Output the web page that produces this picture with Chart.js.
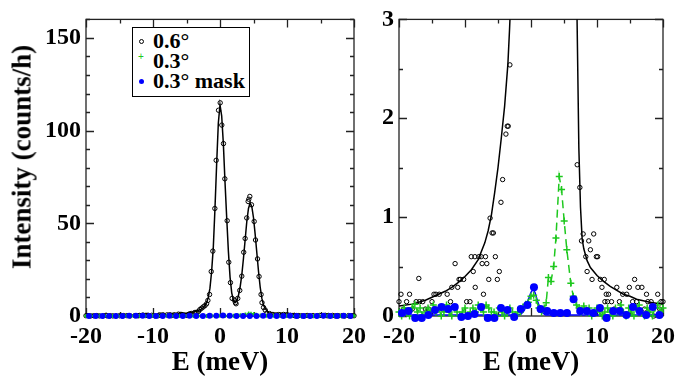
<!DOCTYPE html>
<html>
<head>
  <title>Intensity vs E</title>
  <style>
    body {
      margin: 0;
      padding: 0;
      background-color: #fff;
      font-family: "Liberation Serif", serif;
    }

    #wrap {
      position: relative;
      width: 681px;
      height: 376px;
      overflow: hidden;
    }

    canvas {
      position: absolute;
      top: 0;
    }

    #left { left: 0; }
    #right { left: 360px; }

    #ytitle {
      position: absolute;
      left: 22px;
      top: 157px;
      transform: translate(-50%, -50%) rotate(-90deg);
      font: bold 27px "Liberation Serif", serif;
      white-space: nowrap;
      color: #000;
    }

    #legend {
      position: absolute;
      left: 132px;
      top: 27px;
      width: 116px;
      height: 68px;
      border: 1.5px solid #000;
      background: #fff;
      font: bold 22px "Liberation Serif", serif;
      color: #000;
    }

    .row {
      position: absolute;
      left: 20px;
      height: 20px;
      line-height: 20px;
      white-space: nowrap;
    }

    .mk {
      position: absolute;
      left: -14px;
      top: 8px;
      width: 4px;
      height: 4px;
      border-radius: 50%;
    }
  </style>
</head>
<body>

<div id="wrap">
  <canvas id="left" width="372" height="376"></canvas>
  <canvas id="right" width="321" height="376"></canvas>
  <div id="ytitle">Intensity (counts/h)</div>
  <div id="legend">
    <div class="row" style="top: 3px;"><span class="mk" style="border: 1px solid #000; width: 3px; height: 3px;"></span>0.6°</div>
    <div class="row" style="top: 23px;"><span class="mk" style="left: -15px; top: 0; width: auto; height: auto; color: #1ec81e; font: 10px sans-serif;">+</span>0.3°</div>
    <div class="row" style="top: 43px;"><span class="mk" style="background: #0000ff; width: 5px; height: 5px;"></span>0.3° mask</div>
  </div>
</div>

<script src="https://cdn.jsdelivr.net/npm/chart.js"></script>
<script>
  // 0.6 deg data (open circles)
  const e06 = [-20.0, -19.7, -19.3, -18.85, -18.4, -18.0, -17.4, -17.0, -16.9, -16.4, -16.0, -15.5, -15.0, -14.7, -14.4, -13.9, -13.4, -12.7, -12.2, -12.0,
    -11.5, -11.1, -10.9, -10.7, -10.2, -9.75, -9.25, -9.05, -8.75, -8.5, -8.45, -7.9, -7.55, -7.4, -7.2, -6.9, -6.7, -6.4, -6.2, -5.9,
    -5.7, -5.4, -5.1, -4.8, -4.55, -4.3, -3.8, -3.6, -3.45, -3.2, -3.0, -2.75, -2.5, -2.25, -2.0, -1.81, -1.56, -1.31, -1.07, -0.77,
    -0.57, -0.22, 0.03, 0.27, 0.52, 0.72, 1.07, 1.31, 1.56, 1.81, 2.15, 2.3, 2.4, 2.65, 2.95, 3.25, 3.54, 3.75, 3.99, 4.2,
    4.3, 4.45, 4.7, 5.1, 5.3, 5.6, 5.83, 6.13, 6.27, 6.5, 6.75, 7.0, 7.4, 7.65, 7.9, 8.3, 8.5, 8.75, 9.0, 9.25,
    9.5, 9.9, 10.1, 10.5, 10.75, 11.1, 11.2, 11.4, 11.6, 11.75, 12.2, 12.6, 13.0, 13.4, 13.9, 14.5, 14.9, 15.4, 15.7, 16.0,
    16.2, 16.8, 17.2, 17.5, 17.7, 18.2, 18.6, 19.2, 19.5, 19.7, 20.0];
  const i06 = [0.145, 0.22, 0.07, 0.145, 0.22, 0.07, 0.145, 0.38, 0.145, 0.145, 0.07, 0.07, 0.145, 0.22, 0.22, 0.22, 0.07, 0.22, 0.145, 0.29,
    0.53, 0.29, 0.37, 0.37, 0.37, 0.145, 0.145, 0.6, 0.45, 0.6, 0.29, 0.6, 0.6, 0.53, 0.22, 0.6, 0.53, 0.37, 0.99, 0.84,
    0.84, 0.6, 0.37, 0.45, 1.15, 1.38, 1.84, 1.92, 1.92, 2.54, 3.5, 4.2, 4.9, 5.6, 6.6, 8.4, 11.6, 24, 35, 58,
    84, 111, 115, 103, 93, 74, 51.4, 29, 18, 9.5, 8.6, 7.2, 6.6, 9.5, 13.8, 21.5, 34.4, 41.8, 52.9, 61.8,
    63, 64.5, 60, 51, 41, 30.8, 21.3, 11.6, 7.2, 4.6, 3.2, 1.53, 1.3, 0.76, 0.83, 0.6, 0.45, 0.76, 0.67, 0.37,
    0.83, 0.6, 0.6, 0.37, 0.29, 0.37, 0.145, 0.22, 0.145, 0.22, 0.145, 0.07, 0.29, 0.145, 0.22, 0.22, 0.29, 0.145, 0.37, 0.145,
    0.29, 0.29, 0.07, 0.22, 0.145, 0.145, 0.0, 0.22, 0.07, 0.145, 0.145];

  // fit through the 0.6 deg data (black line)
  const fitE = [-20, -18, -16, -15, -14, -13, -12, -11, -10, -9, -8, -7, -6.5, -6, -5.5, -5, -4.5, -4, -3.5, -3.25,
    -3, -2.75, -2.5, -2.25, -2, -1.75, -1.5, -1.25, -1, -0.75, -0.5, -0.25, 0, 0.25, 0.5, 0.75, 1, 1.25, 1.5, 1.75,
    2, 2.25, 2.5, 2.75, 3, 3.25, 3.5, 3.75, 4, 4.25, 4.5, 4.75, 5, 5.25, 5.5, 5.75, 6, 6.25, 6.5, 6.75,
    7, 7.25, 7.5, 7.75, 8, 8.5, 9, 10, 11, 12, 13, 14, 15, 16, 17, 18, 19, 20];
  const fitI = [0.10, 0.12, 0.16, 0.19, 0.22, 0.25, 0.29, 0.34, 0.4, 0.47, 0.57, 0.74, 0.86, 1.02, 1.25, 1.5, 1.8, 2.12, 2.55, 2.9,
    3.3, 3.9, 4.6, 5.6, 7.2, 10, 15, 24, 37, 58, 82, 104, 114, 108, 93, 72, 53, 35, 21, 12.5,
    8.5, 7.2, 8, 11, 15.5, 22, 31, 41, 51, 58, 61, 59, 53, 44, 34, 24, 15.5, 9.5, 5.8, 4.0,
    2.9, 1.7, 1.1, 0.78, 0.68, 0.56, 0.49, 0.41, 0.35, 0.3, 0.26, 0.22, 0.2, 0.17, 0.155, 0.14, 0.13, 0.12];

  // 0.3 deg data (green crosses)
  const e03 = [-20.0, -19.6, -19.2, -18.8, -18.4, -18.0, -17.6, -17.2, -16.8, -16.4, -16.0, -15.6, -15.2, -14.8, -14.4, -14.0, -13.6, -13.2, -12.8, -12.4,
    -12.0, -11.6, -11.2, -10.8, -10.4, -10.0, -9.6, -9.2, -8.8, -8.4, -8.0, -7.6, -7.2, -6.8, -6.4, -6.0, -5.6, -5.2, -4.8, -4.4,
    -4.0, -3.6, -3.2, -2.8, -2.4, -2.0, -1.6, -1.2, -0.8, -0.4, 0.0, 0.4, 0.8, 1.2, 1.6, 2.0, 2.3, 2.64, 3.03, 3.43,
    3.78, 4.28, 4.63, 5.03, 5.43, 6.03, 6.4, 6.9, 7.3, 7.6, 8.0, 8.4, 8.8, 9.2, 9.6, 10.0, 10.4, 10.8, 11.2, 11.6,
    12.0, 12.4, 12.8, 13.2, 13.6, 14.0, 14.4, 14.8, 15.2, 15.6, 16.0, 16.4, 16.8, 17.2, 17.6, 18.0, 18.4, 18.8, 19.2, 19.6, 20.0];
  const i03 = [0.04, 0.0, 0.08, 0.04, 0.0, 0.08, 0.12, 0.04, 0.08, 0.0, 0.04, 0.08, 0.04, 0.11, 0.04, 0.08, 0.0, 0.04, 0.11, 0.04,
    0.0, 0.08, 0.04, 0.0, 0.04, 0.08, 0.0, 0.04, 0.08, 0.04, 0.11, 0.08, 0.04, 0.11, 0.08, 0.04, 0.04, 0.0, 0.08, 0.04,
    0.0, 0.04, 0.08, 0.04, 0.0, 0.04, 0.04, 0.08, 0.12, 0.14, 0.2, 0.21, 0.16, 0.08, 0.04, 0.08, 0.135, 0.39, 0.35, 0.5,
    0.79, 1.41, 1.28, 0.96, 0.67, 0.33, 0.2, 0.11, 0.08, 0.04, 0.1, 0.04, 0.08, 0.0, 0.04, 0.08, 0.04, 0.0, 0.04, 0.08,
    0.04, 0.0, 0.08, 0.04, 0.11, 0.04, 0.0, 0.08, 0.04, 0.0, 0.08, 0.11, 0.04, 0.0, 0.08, 0.04, 0.0, 0.08, 0.11, 0.04, 0.08];

  // 0.3 deg mask data (blue dots)
  const eMask = [-19.55, -18.55, -17.55, -16.55, -15.55, -14.55, -13.55, -12.55, -11.55, -10.55, -9.55, -8.55, -7.55, -6.55, -5.55, -4.55, -3.55, -2.55, -1.55, -0.55,
    0.45, 1.45, 2.45, 3.45, 4.45, 5.45, 6.45, 7.45, 8.45, 9.45, 10.45, 11.45, 12.45, 13.45, 14.45, 15.45, 16.45, 17.45, 18.45, 19.45];
  const iMask = [0.03, 0.05, -0.02, -0.02, 0.01, 0.06, 0.09, 0.07, 0.09, -0.01, 0.0, 0.02, 0.09, -0.02, -0.02, 0.08, 0.06, -0.01, 0.07, 0.11,
    0.29, 0.07, 0.05, 0.03, 0.03, 0.03, 0.17, 0.05, 0.05, 0.03, 0.08, -0.02, 0.05, 0.05, 0.01, 0.09, 0.05, 0.01, 0.09, 0.01];

  // fit through the mask data (blue line)
  const maskFitE = [-20, -2, -1.5, -1, -0.5, 0, 0.3, 0.6, 1, 1.4, 1.8, 2.2, 20];
  const maskFitI = [0.01, 0.01, 0.02, 0.06, 0.15, 0.24, 0.27, 0.24, 0.15, 0.07, 0.03, 0.01, 0.01];

  const xTicks = [-20, -10, 0, 10, 20];
  const leftYTicks = [0, 50, 100, 150];
  const rightYTicks = [0, 1, 2, 3];

  const pts = (xs, ys) => xs.map((x, i) => ({ x: x, y: ys[i] }));
  const serif = '"Liberation Serif", "Times New Roman", serif';
  const clipBox = { left: 6, right: 6, top: 0, bottom: 8 };

  Chart.defaults.font.family = serif;
  Chart.defaults.color = '#000';

  // frame with inward major/minor ticks on all four sides
  const framePlugin = {
    id: 'frame',
    beforeDatasetsDraw(chart, args, opts) {
      const { ctx, chartArea: a, scales } = chart;
      const x = scales.x, y = scales.y;
      ctx.save();
      ctx.strokeStyle = '#222';
      ctx.lineWidth = 1.3;
      ctx.strokeRect(a.left, a.top, a.right - a.left, a.bottom - a.top);
      ctx.beginPath();
      for (let v = x.min; v <= x.max + 1e-9; v += opts.xMinor) {
        const px = Math.round(x.getPixelForValue(v)) + 0.5;
        const len = Math.abs(v % opts.xMajor) < 1e-6 ? 8 : 4;
        ctx.moveTo(px, a.bottom); ctx.lineTo(px, a.bottom - len);
        ctx.moveTo(px, a.top); ctx.lineTo(px, a.top + len);
      }
      for (let v = y.min; v <= y.max + 1e-9; v += opts.yMinor) {
        const py = Math.round(y.getPixelForValue(v)) + 0.5;
        const r = v / opts.yMajor;
        const len = Math.abs(r - Math.round(r)) < 1e-6 ? 8 : 4;
        ctx.moveTo(a.left, py); ctx.lineTo(a.left + len, py);
        ctx.moveTo(a.right, py); ctx.lineTo(a.right - len, py);
      }
      ctx.stroke();
      ctx.restore();
    }
  };

  function makeScales(yMax, yTicks, yWidth) {
    return {
      x: {
        type: 'linear',
        min: -20,
        max: 20,
        afterFit: s => { s.height = 60; },
        afterBuildTicks: s => { s.ticks = xTicks.map(v => ({ value: v })); },
        grid: { display: false, drawTicks: false },
        border: { display: false },
        ticks: { color: '#000', padding: 6, maxRotation: 0, font: { family: serif, size: 24, weight: 'bold' } },
        title: { display: true, text: 'E (meV)', color: '#000', padding: { top: 0, bottom: -3 }, font: { family: serif, size: 27, weight: 'bold' } }
      },
      y: {
        type: 'linear',
        min: 0,
        max: yMax,
        afterFit: s => { s.width = yWidth; },
        afterBuildTicks: s => { s.ticks = yTicks.map(v => ({ value: v })); },
        grid: { display: false, drawTicks: false },
        border: { display: false },
        ticks: { color: '#000', padding: 5, font: { family: serif, size: 24, weight: 'bold' } }
      }
    };
  }

  function makeChart(id, opts) {
    const ctx = document.getElementById(id).getContext('2d');
    return new Chart(ctx, {
      type: 'scatter',
      data: {
        datasets: [
          {
            label: '0.3° mask',
            data: pts(eMask, iMask),
            order: 0,
            pointStyle: 'circle',
            pointRadius: opts.dotR,
            pointBackgroundColor: '#0000ff',
            pointBorderColor: '#0000ff',
            pointBorderWidth: 0,
            clip: clipBox
          },
          {
            label: '0.3°',
            data: pts(e03, i03),
            order: 1,
            showLine: opts.greenLine,
            borderColor: '#1ec81e',
            borderWidth: 1.5,
            borderDash: [8, 5],
            pointStyle: 'cross',
            pointRadius: opts.crossR,
            pointBorderColor: '#1ec81e',
            pointBorderWidth: 1.5,
            clip: clipBox
          },
          {
            label: 'mask fit',
            data: pts(maskFitE, maskFitI),
            order: 2,
            showLine: true,
            borderColor: '#0000ff',
            borderWidth: 1.5,
            pointRadius: 0,
            clip: clipBox
          },
          {
            label: '0.6°',
            data: pts(e06, i06),
            order: 3,
            pointStyle: 'circle',
            pointRadius: 2.2,
            pointBackgroundColor: 'rgba(255,255,255,0)',
            pointBorderColor: '#000',
            pointBorderWidth: 1,
            clip: clipBox
          },
          {
            label: 'fit',
            data: pts(fitE, fitI),
            order: 4,
            showLine: true,
            borderColor: '#000',
            borderWidth: 1.5,
            pointRadius: 0,
            clip: clipBox
          }
        ]
      },
      options: {
        responsive: false,
        animation: false,
        events: [],
        layout: { padding: { left: 0, right: opts.padRight, top: 18, bottom: 0 } },
        scales: makeScales(opts.yMax, opts.yTicks, opts.yWidth),
        plugins: {
          legend: { display: false },
          tooltip: { enabled: false },
          frame: { xMajor: 10, xMinor: 5, yMajor: opts.yMajor, yMinor: opts.yMinor }
        }
      },
      plugins: [framePlugin]
    });
  }

  makeChart('left', {
    yMax: 160, yTicks: leftYTicks, yWidth: 86, padRight: 17,
    yMajor: 50, yMinor: 10, crossR: 2, dotR: 3, greenLine: false
  });
  makeChart('right', {
    yMax: 3, yTicks: rightYTicks, yWidth: 39, padRight: 14,
    yMajor: 1, yMinor: 0.5, crossR: 3.5, dotR: 4, greenLine: true
  });
</script>
</body>
</html>
